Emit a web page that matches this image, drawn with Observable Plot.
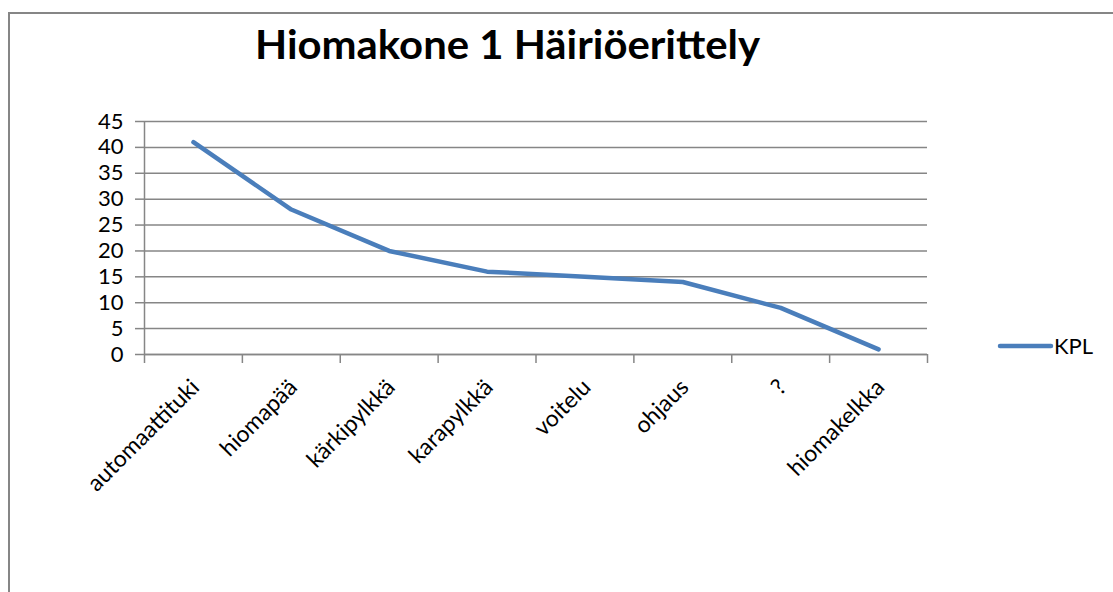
<!DOCTYPE html>
<html>
<head>
<meta charset="utf-8">
<script src="https://cdn.jsdelivr.net/npm/d3@7"></script>
<script src="https://cdn.jsdelivr.net/npm/@observablehq/plot@0.6"></script>
<style>
  html, body { margin: 0; padding: 0; background: #fff; }
  #page { position: relative; width: 1113px; height: 592px; overflow: hidden; font-family: Lato, "Open Sans", sans-serif; }
  #frame { position: absolute; left: 8px; top: 12px; width: 1300px; height: 800px; border: 2px solid #868686; box-sizing: border-box; }
  #chart { position: absolute; left: 0; top: 80px; }
  #overlay { position: absolute; left: 0; top: 0; }
</style>
</head>
<body>
<div id="page">
  <div id="frame"></div>
  <div id="chart"></div>
  <svg id="overlay" width="1113" height="592"></svg>
</div>
<script>
// ---- data ----
const title = "Hiomakone 1 Häiriöerittely";
const seriesName = "KPL";
const categories = ["automaattituki", "hiomapää", "kärkipylkkä", "karapylkkä", "voitelu", "ohjaus", "?", "hiomakelkka"];
const values = [41, 28, 20, 16, 15, 14, 9, 1];
const yTicks = [0, 5, 10, 15, 20, 25, 30, 35, 40, 45];

// ---- styles ----
const lineColor = "#4a7ebb";
const gridColor = "#868686";
const fontFamily = "Lato, 'Open Sans', sans-serif";

const rows = categories.map((c, i) => ({slot: i + 0.5, category: c, value: values[i]}));
const boundaries = d3.range(categories.length + 1);

const chart = Plot.plot({
  width: 1113,
  height: 512,
  marginLeft: 144,
  marginRight: 186,
  marginTop: 41,
  marginBottom: 238,
  x: {type: "linear", domain: [0, categories.length], label: null, axis: null},
  y: {domain: [0, 45], label: null, axis: null},
  style: {fontFamily, fontSize: "21px", color: "#000", background: "transparent", overflow: "visible"},
  marks: [
    Plot.gridY(yTicks, {stroke: gridColor, strokeOpacity: 1, strokeWidth: 1.5}),
    Plot.axisY({ticks: yTicks, tickSize: 9, tickPadding: 12, fontSize: 22, stroke: gridColor, strokeWidth: 1.5, label: null, fill: "#000"}),
    Plot.axisX({ticks: boundaries, tickSize: 9, tickFormat: () => "", stroke: gridColor, strokeWidth: 1.5, label: null}),
    Plot.ruleX([0], {stroke: gridColor, strokeWidth: 1.5}),
    Plot.ruleY([0], {stroke: gridColor, strokeWidth: 1.5}),
    Plot.line(rows, {x: "slot", y: "value", stroke: lineColor, strokeWidth: 4.5, strokeLinecap: "round", strokeLinejoin: "round"}),
    Plot.text(rows, {x: "slot", frameAnchor: "bottom", text: "category", rotate: -45, textAnchor: "end", lineAnchor: "middle", dx: 2, dy: 29, fontSize: 23, fill: "#000"})
  ]
});
document.getElementById("chart").appendChild(chart);

// ---- title & legend ----
const overlay = d3.select("#overlay");
overlay.append("text")
  .attr("x", 255).attr("y", 58.5)
  .attr("font-family", fontFamily)
  .attr("font-weight", 700)
  .attr("font-size", 40)
  .attr("textLength", 505)
  .attr("lengthAdjust", "spacingAndGlyphs")
  .attr("fill", "#000")
  .text(title);

const lg = overlay.append("g");
lg.append("line")
  .attr("x1", 1000).attr("x2", 1051).attr("y1", 346).attr("y2", 346)
  .attr("stroke", lineColor).attr("stroke-width", 4.5).attr("stroke-linecap", "round");
lg.append("text")
  .attr("x", 1054).attr("y", 346).attr("dy", "0.35em")
  .attr("font-family", fontFamily).attr("font-size", 22).attr("fill", "#000")
  .text(seriesName);
</script>
</body>
</html>
